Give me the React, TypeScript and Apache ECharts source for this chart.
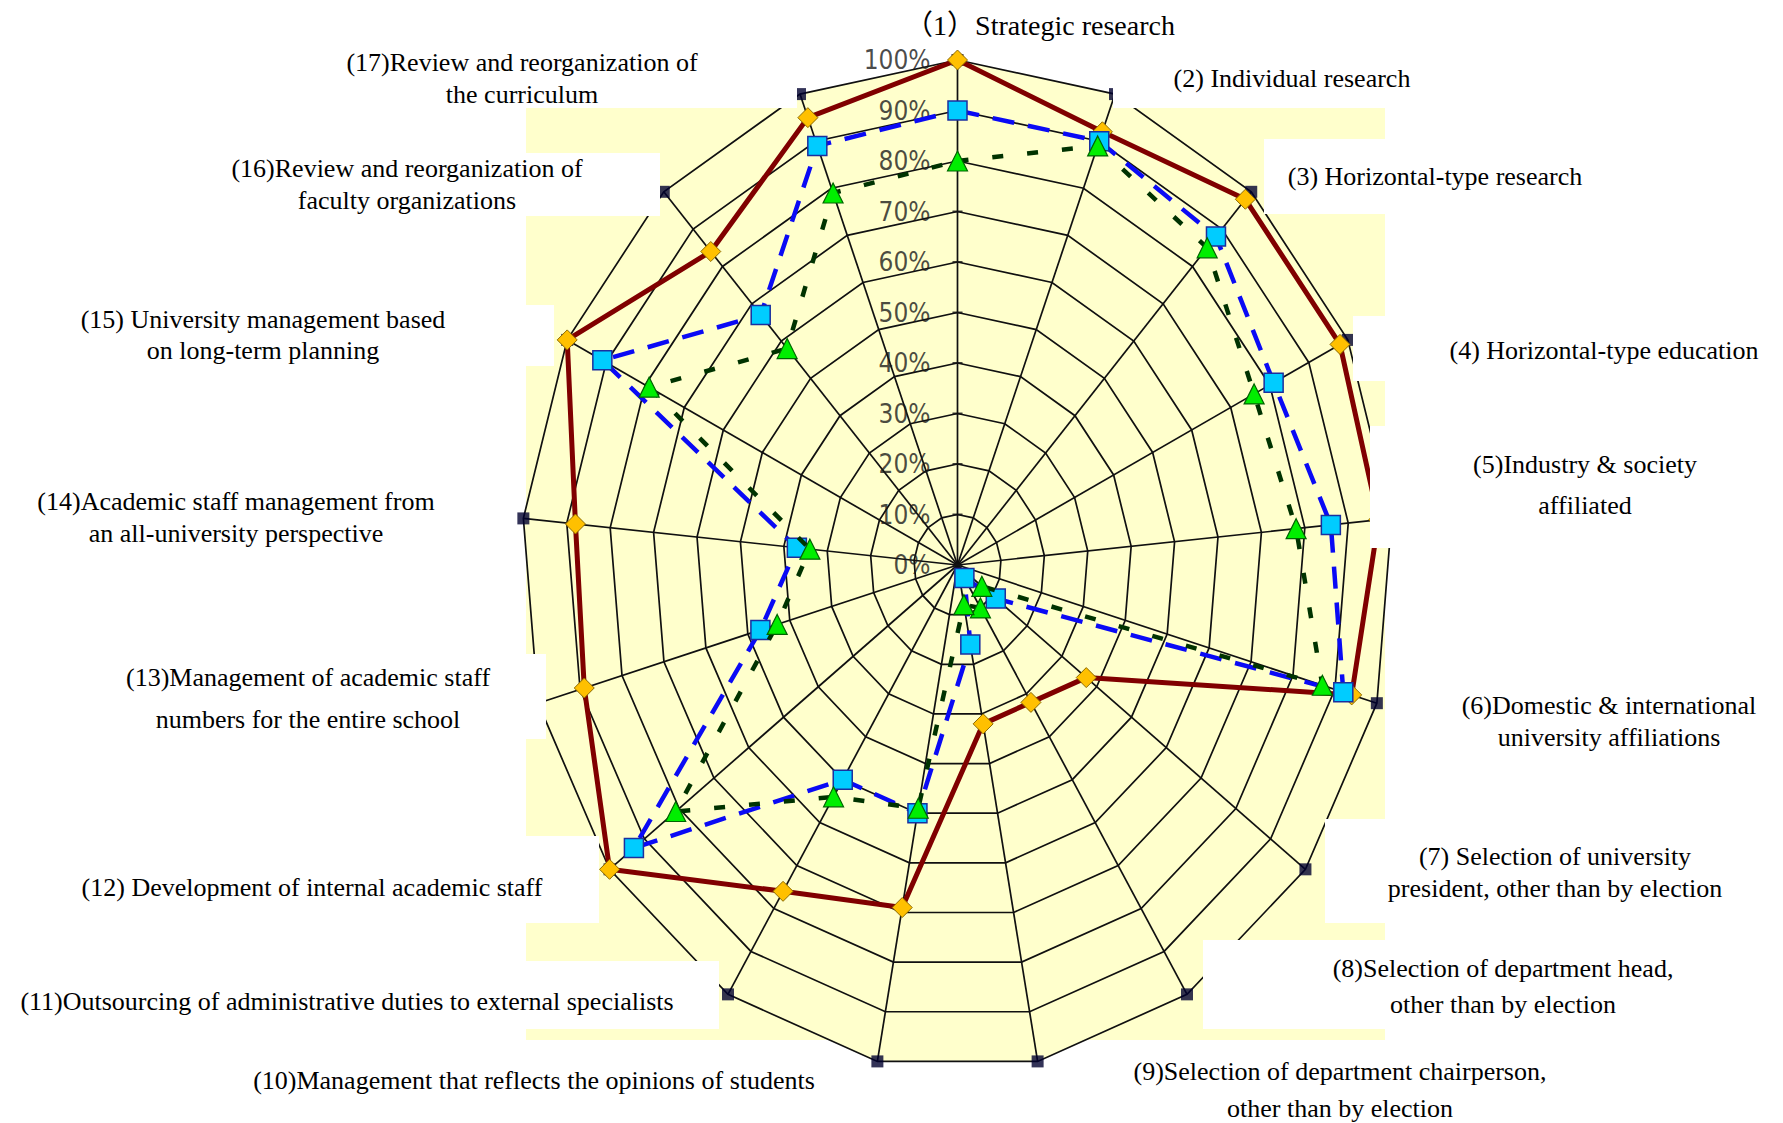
import { useEffect, useRef } from "react";
import * as echarts from "echarts";

// ---- data -------------------------------------------------------------
const categories = [
  "（1）Strategic research",
  "(2) Individual research",
  "(3) Horizontal-type research",
  "(4) Horizontal-type education",
  "(5)Industry & society\naffiliated",
  "(6)Domestic & international\nuniversity affiliations",
  "(7) Selection of university\npresident, other than by election",
  "(8)Selection of department head,\nother than by election",
  "(9)Selection of department chairperson,\nother than by election",
  "(10)Management that reflects the opinions of students",
  "(11)Outsourcing of administrative duties to external specialists",
  "(12) Development of internal academic staff",
  "(13)Management of academic staff\nnumbers for the entire school",
  "(14)Academic staff management from\nan all-university perspective",
  "(15) University management based\non long-term planning",
  "(16)Review and reorganization of\nfaculty organizations",
  "(17)Review and reorganization of\nthe curriculum",
];

const ringLevels = [0, 10, 20, 30, 40, 50, 60, 70, 80, 90, 100];
const ringTicks = ["0%", "10%", "20%", "30%", "40%", "50%", "60%", "70%", "80%", "90%", "100%"];

const seriesNames = ["Series A", "Series B", "Series C"];
const redValues = [100, 92, 98, 98, 97, 94, 37, 32, 32, 69, 76, 100, 89, 88, 100, 84, 95];
const blueValues = [90, 90, 88, 81, 86, 92, 11, 3, 16, 50, 50, 93, 47, 37, 91, 67, 89];
const greenValues = [80, 89, 85, 76, 78, 87, 7, 10, 8, 49, 54, 81, 43, 34, 79, 58, 79];
const outerMarks = [100, 100, 100, 100, 100, 100, 100, 100, 100, 100, 100, 100, 100, 100, 100, 100, 100];

// ---- layout -----------------------------------------------------------
const W = 1783;
const H = 1123;
const CX = 957.5;
const CY = 565;
const RX = 436;
const RY = 505;

const labelAnchors = [
  [1040, 25], [1292, 78], [1435, 176], [1604, 350], [1585, 485], [1609, 721],
  [1555, 872], [1503, 986], [1340, 1090], [534, 1080], [347, 1001], [312, 887],
  [308, 698], [236, 517], [263, 335], [407, 184], [522, 78],
];
const labelLineHeights = [30, 30, 30, 30, 41, 32, 32, 36, 37, 30, 30, 30, 42, 32, 31, 32, 32];

const plotBg = [526, 108, 859, 932];
const labelBoxes = [
  [0, 0, 797, 108],
  [1113, 0, 670, 108],
  [0, 153, 660, 63],
  [1264, 139, 519, 75],
  [0, 305, 554, 61],
  [1353, 316, 430, 65],
  [1370, 426, 413, 122],
  [0, 654, 546, 85],
  [1325, 819, 458, 104],
  [0, 836, 599, 87],
  [1203, 940, 580, 89],
  [0, 961, 719, 68],
];

const AXIS_COUNT = categories.length;
const angleOf = (i: number) => (i * 2 * Math.PI) / AXIS_COUNT;
const toXY = (i: number, pct: number): number[] => [
  (pct / 100) * Math.sin(angleOf(i)),
  (pct / 100) * Math.cos(angleOf(i)),
];

const closedPath = (values: number[]) => {
  const pts = values.map((v, i) => ({ value: toXY(i, v) }));
  return [...pts, { value: toXY(0, values[0]), symbol: "none" }];
};

const serifFont = '"Liberation Serif", "Times New Roman", "Noto Sans CJK JP", serif';
const tickFont = '"Liberation Sans Narrow", "DejaVu Sans Condensed", "Liberation Sans", sans-serif';

function buildOption(): any {
  const graphics: any[] = [
    {
      type: "rect",
      z: -5,
      silent: true,
      shape: { x: plotBg[0], y: plotBg[1], width: plotBg[2], height: plotBg[3] },
      style: { fill: "#FFFFCC" },
    },
  ];
  labelBoxes.forEach((b) => {
    graphics.push({
      type: "rect",
      z: 40,
      silent: true,
      shape: { x: b[0], y: b[1], width: b[2], height: b[3] },
      style: { fill: "#FFFFFF" },
    });
  });
  categories.forEach((name, i) => {
    const size = i === 0 ? 28 : 26;
    graphics.push({
      type: "text",
      z: 41,
      silent: true,
      x: labelAnchors[i][0],
      y: labelAnchors[i][1],
      style: {
        text: name,
        font: `${size}px ${serifFont}`,
        fontSize: size,
        fontFamily: serifFont,
        lineHeight: labelLineHeights[i],
        fill: "#000",
        textAlign: "center",
        textVerticalAlign: "middle",
        align: "center",
        verticalAlign: "middle",
      },
    });
  });

  return {
    animation: false,
    backgroundColor: "#FFFFFF",
    grid: { left: CX - RX, top: CY - RY, width: 2 * RX, height: 2 * RY, show: false },
    xAxis: { type: "value", min: -1, max: 1, show: false },
    yAxis: { type: "value", min: -1, max: 1, show: false },
    graphic: { elements: graphics },
    series: [
      // filled 100% polygon
      {
        type: "custom",
        coordinateSystem: "cartesian2d",
        silent: true,
        z: 1,
        data: [[0, 0, 100]],
        renderItem: (_p: any, api: any) => {
          const level = api.value(2);
          const points = categories.map((_, i) => api.coord(toXY(i, level)));
          return { type: "polygon", shape: { points }, style: { fill: "#FFFFCC", stroke: null } };
        },
      },
      // concentric rings
      {
        type: "custom",
        coordinateSystem: "cartesian2d",
        silent: true,
        z: 2,
        data: ringLevels.filter((l) => l > 0).map((l) => [0, 0, l]),
        renderItem: (_p: any, api: any) => {
          const level = api.value(2);
          const points: number[][] = [];
          for (let i = 0; i <= AXIS_COUNT; i++) points.push(api.coord(toXY(i % AXIS_COUNT, level)));
          return {
            type: "polyline",
            shape: { points },
            style: { stroke: "#101010", lineWidth: 1.7, fill: null },
          };
        },
      },
      // spokes
      {
        type: "custom",
        coordinateSystem: "cartesian2d",
        silent: true,
        z: 2,
        data: categories.map((_, i) => [0, 0, i]),
        renderItem: (_p: any, api: any) => {
          const i = api.value(2);
          const c = api.coord([0, 0]);
          const t = api.coord(toXY(i, 100));
          return {
            type: "line",
            shape: { x1: c[0], y1: c[1], x2: t[0], y2: t[1] },
            style: { stroke: "#101010", lineWidth: 1.7 },
          };
        },
      },
      // percentage ticks on the first axis
      {
        type: "scatter",
        silent: true,
        clip: false,
        z: 3,
        symbol: "rect",
        symbolSize: [10, 2],
        itemStyle: { color: "#141414" },
        data: ringLevels.map((l) => toXY(0, l)),
        label: {
          show: true,
          position: "left",
          distance: 22,
          formatter: (p: any) => ringTicks[p.dataIndex],
          fontSize: 26,
          fontFamily: tickFont,
          color: "#1a1a1a",
        },
      },
      // outer end marks
      {
        type: "scatter",
        silent: true,
        clip: false,
        z: 3,
        symbol: "rect",
        symbolSize: 12,
        itemStyle: { color: "#00002E" },
        data: outerMarks.map((v, i) => toXY(i, v)),
      },
      {
        type: "line",
        name: seriesNames[0],
        silent: true,
        clip: false,
        z: 4,
        data: closedPath(redValues),
        symbol: "diamond",
        symbolSize: 20,
        showSymbol: true,
        showAllSymbol: true,
        lineStyle: { color: "#800000", width: 5 },
        itemStyle: { color: "#FFC000", borderColor: "#8C6A00", borderWidth: 1 },
      },
      {
        type: "line",
        name: seriesNames[1],
        silent: true,
        clip: false,
        z: 5,
        data: closedPath(blueValues),
        symbol: "rect",
        symbolSize: 19,
        showSymbol: true,
        showAllSymbol: true,
        lineStyle: { color: "#0A0AF5", width: 4.5, type: [22, 14] },
        itemStyle: { color: "#00CCFF", borderColor: "#1B2F9E", borderWidth: 1.5 },
      },
      {
        type: "line",
        name: seriesNames[2],
        silent: true,
        clip: false,
        z: 6,
        data: closedPath(greenValues),
        symbol: "triangle",
        symbolSize: 20,
        showSymbol: true,
        showAllSymbol: true,
        lineStyle: { color: "#003300", width: 4.5, type: [11, 24] },
        itemStyle: { color: "#00EE00", borderColor: "#006400", borderWidth: 1.2 },
      },
    ],
  };
}

export default function App() {
  const ref = useRef<HTMLDivElement>(null);
  useEffect(() => {
    if (!ref.current) return;
    const chart = echarts.init(ref.current, null, { renderer: "svg" });
    chart.setOption(buildOption());
    return () => chart.dispose();
  }, []);
  return (
    <div
      ref={ref}
      style={{ position: "absolute", left: 0, top: 0, width: W, height: H, background: "#fff" }}
    />
  );
}
